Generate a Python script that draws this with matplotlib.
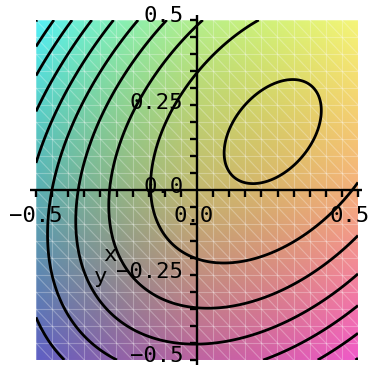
import numpy as np
import matplotlib
matplotlib.use("Agg")
import matplotlib.pyplot as plt

# ---- surface parameters: bowl-shaped field with its extremum at `peak` ----
peak = (0.235, 0.172)
coef_xx, coef_yy, coef_xy = 9.8, 9.5, -7.0
skew_sq, skew_cube = 1.5, 1.5          # extra terms across the long axis
levels = [0.2, 1.27, 2.29, 3.31, 4.33, 5.35, 6.37, 7.39, 8.41, 9.43]

# ---- shading: red/green at 3x3 control points (rows top->bottom), blue from height ----
red_ctrl = [[85, 180, 245],
            [90, 195, 245],
            [95, 190, 240]]
green_ctrl = [[240, 238, 245],
              [175, 185, 175],
              [95, 100, 90]]
blue_base, blue_gain = 105, 15

# ---- axis labels / ticks ----
y_tick_vals = [0.5, 0.25, 0.0, -0.25, -0.5]
y_tick_text = ["0.5", "0.25", "0.0", "\u22120.25", "\u22120.5"]
x_tick_vals = [-0.5, 0.0, 0.5]
x_tick_text = ["\u22120.5", "0.0", "0.5"]

W, H = 372, 367
fig = plt.figure(figsize=(W / 100, H / 100), dpi=100)
ax = fig.add_axes([36 / W, 7 / H, 322 / W, 340 / H])
ax.set_xlim(-0.5, 0.5)
ax.set_ylim(-0.5, 0.5)
ax.axis("off")


def field(x, y):
    dx = x - peak[0]
    dy = y - peak[1]
    w = (dy - dx) / np.sqrt(2.0)
    return (coef_xx * dx ** 2 + coef_yy * dy ** 2 + coef_xy * dx * dy
            + skew_sq * w ** 2 + skew_cube * w ** 3)


# background shading
n = 240
xs_img = np.linspace(-0.5, 0.5, n)
ys_img = np.linspace(0.5, -0.5, n)          # image rows run top -> bottom
XI, YI = np.meshgrid(xs_img, ys_img)


def bilerp(ctrl, X, Y):
    c = np.asarray(ctrl, dtype=float)
    u = (X + 0.5) * 2.0                     # 0..2 left -> right
    v = (0.5 - Y) * 2.0                     # 0..2 top -> bottom
    i = np.clip(np.floor(v).astype(int), 0, 1)
    j = np.clip(np.floor(u).astype(int), 0, 1)
    fv = v - i
    fu = u - j
    return ((1 - fv) * (1 - fu) * c[i, j] + (1 - fv) * fu * c[i, j + 1]
            + fv * (1 - fu) * c[i + 1, j] + fv * fu * c[i + 1, j + 1])


img = np.empty((n, n, 3))
img[..., 0] = bilerp(red_ctrl, XI, YI)
img[..., 1] = bilerp(green_ctrl, XI, YI)
img[..., 2] = np.clip(blue_base + blue_gain * field(XI, YI), 0, 240)
ax.imshow(img / 255.0, extent=(-0.5, 0.5, -0.5, 0.5), origin="upper",
          interpolation="bilinear", zorder=0, aspect="auto")

# light triangulated mesh over the shading
step = 0.05
g = np.arange(-0.5, 0.5001, step)
mesh_kw = dict(color="white", alpha=0.28, lw=0.8, zorder=1)
for v in g:
    ax.plot([v, v], [-0.5, 0.5], **mesh_kw)
    ax.plot([-0.5, 0.5], [v, v], **mesh_kw)
for k in range(-len(g) + 1, len(g)):
    c0 = k * step                           # diagonal y = -x + c0
    xa = max(-0.5, c0 - 0.5)
    xb = min(0.5, c0 + 0.5)
    if xb > xa:
        ax.plot([xa, xb], [c0 - xa, c0 - xb], **mesh_kw)

# contour lines
xs = np.linspace(-0.5, 0.5, 400)
X, Y = np.meshgrid(xs, xs)
ax.contour(X, Y, field(X, Y), levels=levels, colors="black",
           linewidths=2.0, zorder=2)

# axes through the origin
line_kw = dict(color="black", lw=1.7, zorder=3, clip_on=False, solid_capstyle="butt")
ax.plot([-0.519, 0.512], [0, 0], **line_kw)
ax.plot([0, 0], [-0.515, 0.515], **line_kw)
tick_x_len = 7 / 340
tick_y_len = 7 / 322
for t in np.round(np.arange(-0.5, 0.5001, 0.05), 2):
    if abs(t) < 1e-9:
        continue
    ax.plot([t, t], [0, -tick_x_len], **line_kw)
    ax.plot([0, -tick_y_len], [t, t], **line_kw)

font = dict(family="DejaVu Sans Mono", fontsize=16, color="black", zorder=4)
y_label_pos = [0.513, 0.257, 0.009, -0.24, -0.488]
for v, s in zip(y_label_pos, y_tick_text):
    ax.text(-0.043, v, s, ha="right", va="center", clip_on=False, **font)
x_label_pos = [-0.5, -0.01, 0.475]
for v, s in zip(x_label_pos, x_tick_text):
    ax.text(v, -0.0765, s, ha="center", va="center", clip_on=False, **font)

ax.text(-0.272, -0.19, "x", ha="center", va="center", **font)
ax.text(-0.298, -0.256, "y", ha="center", va="center", **font)

fig.savefig("out.png", dpi=100)
